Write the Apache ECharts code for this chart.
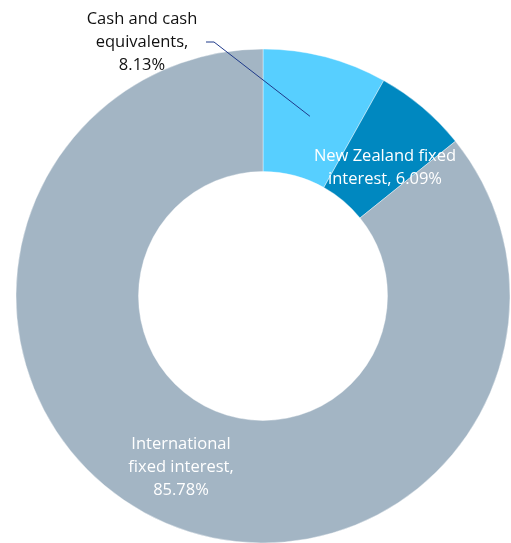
<!DOCTYPE html>
<html>
<head>
<meta charset="utf-8">
<script src="https://cdn.jsdelivr.net/npm/echarts@6/dist/echarts.min.js"></script>
<style>
html,body{margin:0;padding:0;background:#fff;}
#c{width:511px;height:543px;}
</style>
</head>
<body>
<div id="c"></div>
<script>
const categories = ['Cash and cash equivalents', 'New Zealand fixed interest', 'International fixed interest'];
const values = [8.13, 6.09, 85.78];
const labelTemplates = ['Cash and cash\nequivalents,\n{v}%', 'New Zealand fixed\ninterest, {v}%', 'International\nfixed interest,\n{v}%'];
const colors = ['#57CFFF', '#0088C0', '#A3B5C4'];

const CX = 263, CY = 296, R0 = 124.5, R1 = 247;
const labelPos = [[142, 42], [385, 168], [181, 467]];
const total = values.reduce((a, b) => a + b, 0);

function midPoint(i, r) {
  let before = 0;
  for (let k = 0; k < i; k++) before += values[k];
  const a = 2 * Math.PI * (before + values[i] / 2) / total;
  return [CX + r * Math.sin(a), CY - r * Math.cos(a)];
}

const baseLabel = {
  fontFamily: 'Open Sans',
  fontSize: 16.5,
  lineHeight: 23,
  align: 'center',
  formatter: p => labelTemplates[p.dataIndex].replace('{v}', p.value.toFixed(2))
};

function layout(p) {
  const i = p.dataIndex;
  const o = {x: labelPos[i][0], y: labelPos[i][1], align: 'center', verticalAlign: 'middle'};
  if (i === 0) {
    o.labelLinePoints = [midPoint(0, (R0 + R1) / 2), [214, 42], [206, 42]];
  }
  return o;
}

const chart = echarts.init(document.getElementById('c'), null, {renderer: 'canvas'});
chart.setOption({
  animation: false,
  series: [{
    type: 'pie',
    z: 2,
    center: [CX, CY],
    radius: [R0, R1],
    startAngle: 90,
    clockwise: true,
    avoidLabelOverlap: false,
    itemStyle: {borderColor: '#fff', borderWidth: 0.4},
    label: Object.assign({}, baseLabel, {show: true, position: 'inside', color: '#fff'}),
    labelLine: {show: false},
    labelLayout: layout,
    data: categories.map((n, i) => ({
      name: n,
      value: values[i],
      itemStyle: {color: colors[i]},
      label: i === 0 ? {show: false} : undefined
    }))
  }, {
    type: 'pie',
    z: 5,
    silent: true,
    center: [CX, CY],
    radius: [R0, R1],
    startAngle: 90,
    clockwise: true,
    avoidLabelOverlap: false,
    itemStyle: {color: 'rgba(0,0,0,0)', borderWidth: 0},
    label: Object.assign({}, baseLabel, {show: false, position: 'outside', color: '#111'}),
    labelLine: {show: false},
    labelLayout: layout,
    data: categories.map((n, i) => ({
      name: n,
      value: values[i],
      label: i === 0 ? {show: true} : undefined,
      labelLine: i === 0 ? {show: true, lineStyle: {color: '#1F3A8A', width: 1}} : undefined
    }))
  }]
});
</script>
</body>
</html>
